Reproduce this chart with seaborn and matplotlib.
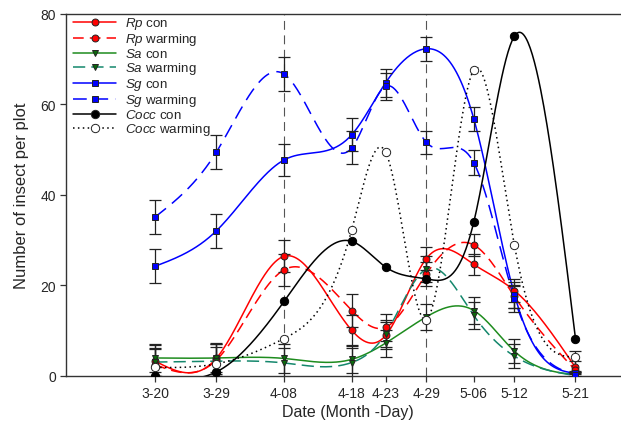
# Insect counts per plot over the season, con vs warming, smooth spline curves with error bars
import numpy as np
import pandas as pd
import matplotlib
matplotlib.use("Agg")
import matplotlib.pyplot as plt
import seaborn as sns
from matplotlib.lines import Line2D

# Sampling dates and their day offset from 3-20
date_labels = ["3-20", "3-29", "4-08", "4-18", "4-23", "4-29", "5-06", "5-12", "5-21"]
days = [0, 9, 19, 29, 34, 40, 47, 53, 62]

# Mean counts
rp_con = [3.2, 3.8, 26.4, 10.0, 8.9, 25.9, 24.6, 18.8, 1.8]
rp_warm = [2.4, 3.4, 23.4, 14.4, 10.7, 22.5, 28.9, 17.5, 1.2]
sa_con = [3.9, 3.9, 3.8, 3.6, 7.2, 13.0, 14.4, 5.4, 0.2]
sa_warm = [3.0, 3.2, 2.8, 2.9, 9.3, 23.6, 13.3, 4.3, 0.0]
sg_con = [24.2, 32.0, 47.7, 53.3, 64.8, 72.3, 56.8, 17.9, 0.5]
sg_warm = [35.1, 49.4, 66.7, 50.4, 64.0, 51.6, 47.1, 17.0, 0.2]
cocc_con = [0.0, 0.8, 16.4, 29.7, 24.0, 21.4, 34.0, 75.1, 8.2]
cocc_warm = [1.8, 2.6, 8.2, 32.3, 49.4, 12.4, 67.6, 28.8, 4.1]

# Standard errors (Cocc has none)
rp_con_err = [3.5, 3.5, 3.5, 3.5, 3.0, 2.6, 2.4, 2.5, 1.5]
rp_warm_err = [3.5, 3.5, 3.5, 3.6, 3.0, 2.6, 2.4, 2.5, 4.3]
sa_con_err = [3.2, 3.2, 3.3, 3.1, 3.0, 2.8, 3.0, 2.6, 0.5]
sa_warm_err = [3.2, 3.2, 3.3, 3.1, 3.0, 2.8, 3.0, 2.6, 0.5]
sg_con_err = [3.7, 3.8, 3.6, 3.7, 3.1, 2.6, 2.6, 2.9, 0.5]
sg_warm_err = [3.7, 3.75, 3.7, 3.7, 3.0, 2.6, 2.8, 2.9, 0.5]


def natural_spline(x, y, n=400):
    # natural cubic spline through the points, only used to draw the curve
    x = np.asarray(x, float)
    y = np.asarray(y, float)
    k = len(x)
    h = np.diff(x)
    A = np.zeros((k, k))
    b = np.zeros(k)
    A[0, 0] = 1
    A[-1, -1] = 1
    for i in range(1, k - 1):
        A[i, i - 1] = h[i - 1]
        A[i, i] = 2 * (h[i - 1] + h[i])
        A[i, i + 1] = h[i]
        b[i] = 6 * ((y[i + 1] - y[i]) / h[i] - (y[i] - y[i - 1]) / h[i - 1])
    M = np.linalg.solve(A, b)
    xs = np.linspace(x[0], x[-1], n)
    idx = np.clip(np.searchsorted(x, xs) - 1, 0, k - 2)
    x0, x1 = x[idx], x[idx + 1]
    hh = x1 - x0
    t0, t1 = x1 - xs, xs - x0
    ys = (M[idx] * t0**3 + M[idx + 1] * t1**3) / (6 * hh) \
        + (y[idx] / hh - M[idx] * hh / 6) * t0 \
        + (y[idx + 1] / hh - M[idx + 1] * hh / 6) * t1
    return xs, ys


sns.set_style("ticks")
plt.rcParams['font.family'] = ['Liberation Sans', 'DejaVu Sans']
plt.rcParams['mathtext.fontset'] = 'custom'
plt.rcParams['mathtext.it'] = 'Liberation Sans:italic'
plt.rcParams['mathtext.rm'] = 'Liberation Sans'

red = "#ff0000"
green = "#1e8c1e"
teal = "#14876c"
blue = "#0000ff"

series = [
    # label, values, errors, line colour, linestyle, marker, marker face, marker size
    (r"$\it{Rp}$ con", rp_con, rp_con_err, red, "-", "o", red, 5),
    (r"$\it{Rp}$ warming", rp_warm, rp_warm_err, red, (0, (7, 4)), "o", red, 5),
    (r"$\it{Sa}$ con", sa_con, sa_con_err, green, "-", "v", "#0b6a0b", 5),
    (r"$\it{Sa}$ warming", sa_warm, sa_warm_err, teal, (0, (8, 4)), "v", "#0b6a0b", 5),
    (r"$\it{Sg}$ con", sg_con, sg_con_err, blue, "-", "s", blue, 4.5),
    (r"$\it{Sg}$ warming", sg_warm, sg_warm_err, blue, (0, (9, 5)), "s", blue, 4.5),
    (r"$\it{Cocc}$ con", cocc_con, None, "black", "-", "o", "black", 6),
    (r"$\it{Cocc}$ warming", cocc_warm, None, "black", (0, (1, 2.2)), "o", "white", 6),
]

fig = plt.figure(figsize=(6.21, 4.27), dpi=100)
ax = fig.add_axes([0.107, 0.118, 0.907, 0.847])

# reference lines at 4-08 and 4-29
for d in [days[2], days[5]]:
    ax.axvline(d, color="#555555", lw=0.8, ls=(0, (8, 5)), zorder=1)

handles = []
for label, vals, errs, col, ls, mk, face, ms in series:
    xs, ys = natural_spline(days, vals)
    curve = pd.DataFrame({"day": xs, "count": ys})
    sns.lineplot(data=curve, x="day", y="count", ax=ax, color=col,
                 linestyle=ls, lw=1.1, zorder=2)
    if errs is not None:
        ax.errorbar(days, vals, yerr=errs, fmt="none", ecolor="#222222",
                    elinewidth=0.9, capsize=4.5, capthick=0.9, zorder=3)
    ax.plot(days, vals, ls="none", marker=mk, ms=ms, mfc=face,
            mec="#222222" if face != "black" else "black", mew=0.7, zorder=4)
    handles.append(Line2D([], [], color=col, linestyle=ls, lw=1.1, marker=mk,
                          ms=ms, mfc=face, mec="#222222", mew=0.7))

ax.legend(handles, [s[0] for s in series], loc="upper left", frameon=False,
          fontsize=9.6, handlelength=3.2, labelspacing=0.0, handletextpad=0.65,
          borderaxespad=0.0, borderpad=0.1, bbox_to_anchor=(0.01, 1.0))

ax.set_xlim(-13.1, 70)
ax.set_ylim(0, 80)
ax.set_xticks(days)
ax.set_xticklabels(date_labels)
ax.set_yticks([0, 20, 40, 60, 80])
ax.tick_params(labelsize=10, length=4, width=0.9, color="#333333")
ax.set_xlabel("Date (Month -Day)", fontsize=11.5, labelpad=3)
ax.set_ylabel("Number of insect per plot", fontsize=12, labelpad=8)
for sp in ax.spines.values():
    sp.set_linewidth(1.0)
    sp.set_color("#333333")
ax.spines["right"].set_visible(False)

plt.savefig("out.png", dpi=100)
plt.close()
